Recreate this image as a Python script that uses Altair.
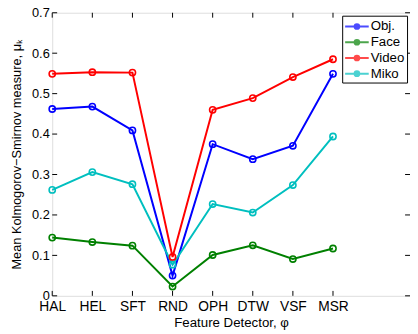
import altair as alt
import pandas as pd

detectors = ["HAL", "HEL", "SFT", "RND", "OPH", "DTW", "VSF", "MSR"]
positions = [1, 2, 3, 4, 5, 6, 7, 8]
series_names = ["Obj.", "Face", "Video", "Miko"]
obj = [0.462, 0.468, 0.409, 0.050, 0.375, 0.338, 0.371, 0.549]
face = [0.144, 0.133, 0.124, 0.023, 0.101, 0.125, 0.091, 0.117]
video = [0.549, 0.553, 0.552, 0.096, 0.460, 0.489, 0.541, 0.585]
miko = [0.262, 0.306, 0.276, 0.077, 0.227, 0.206, 0.274, 0.394]
colors = ["#0000ff", "#008000", "#ff0000", "#00bfbf"]
yticks = [0, 0.1, 0.2, 0.3, 0.4, 0.5, 0.6, 0.7]

rows = []
for name, vals in zip(series_names, [obj, face, video, miko]):
    for p, d, v in zip(positions, detectors, vals):
        rows.append({"series": name, "pos": p, "det": d, "value": v})
df = pd.DataFrame(rows)

W, H = 364, 288
FONT = "Liberation Sans"

label_expr = "[" + ",".join(f"'{d}'" for d in detectors) + "][datum.value-1]"

xscale = alt.Scale(domain=[1, 9.92], nice=False, zero=False)
yscale = alt.Scale(domain=[0, 0.7], nice=False)
cscale = alt.Scale(domain=series_names, range=colors)

x = alt.X("pos:Q", scale=xscale,
          axis=alt.Axis(values=positions, labelExpr=label_expr, title="Feature Detector,  φ",
                        grid=False, domain=False, ticks=False, labelFontSize=14,
                        labelPadding=4, titleFontSize=13.5, titlePadding=2, labelOverlap=False,
                        labelFlush=False, labelBound=False,
                        labelColor="black", titleColor="black", titleFontWeight="normal",
                        labelFont=FONT, titleFont=FONT))
y = alt.Y("value:Q", scale=yscale,
          axis=alt.Axis(values=yticks, title="Mean Kolmogorov−Smirnov measure,  μₖ",
                        grid=False, domain=False, ticks=False, labelFontSize=13,
                        labelPadding=3, titleFontSize=13, titlePadding=8, labelOverlap=False,
                        labelFlush=False, labelBound=False,
                        labelColor="black", titleColor="black", titleFontWeight="normal",
                        labelFont=FONT, titleFont=FONT,
                        labelExpr="datum.value == 0 ? '0' : format(datum.value, '.1f')"))

# legend glyph: a short line with a dot, drawn by stroke
sym = ("M-1.5,0H1.5"
       "M-0.3,0A0.3,0.3,0,1,0,0.3,0A0.3,0.3,0,1,0,-0.3,0Z")

legend = alt.Legend(title=None, orient="none", legendX=295, legendY=3,
                    symbolType=sym, symbolSize=256, symbolStrokeWidth=2,
                    labelFontSize=13.5, labelFont=FONT, labelColor="black",
                    strokeColor="black", fillColor="white", padding=2,
                    symbolOffset=4, labelOffset=5, rowPadding=0)

legend_layer = alt.Chart(df).transform_filter("datum.value < 0").mark_point(filled=True).encode(
    x=x, y=y,
    color=alt.Color("series:N", scale=cscale, sort=series_names, legend=legend),
)
lines = alt.Chart(df).mark_line(strokeWidth=2).encode(
    x="pos:Q", y="value:Q",
    color=alt.Color("series:N"),
    detail="series:N",
)
points = alt.Chart(df).mark_point(shape="circle", size=40, strokeWidth=1.6, filled=False, opacity=1).encode(
    x="pos:Q", y="value:Q",
    color=alt.Color("series:N"),
)

ydf = pd.DataFrame({"t": yticks})
xdf = pd.DataFrame({"t": positions})
tl = alt.Chart(ydf).mark_rule(color="black", strokeWidth=1).encode(
    y=alt.Y("t:Q", scale=yscale), x=alt.value(0), x2=alt.value(5))
tr = alt.Chart(ydf).mark_rule(color="black", strokeWidth=1).encode(
    y=alt.Y("t:Q", scale=yscale), x=alt.value(W), x2=alt.value(W - 5))
tb = alt.Chart(xdf).mark_rule(color="black", strokeWidth=1).encode(
    x=alt.X("t:Q", scale=xscale), y=alt.value(H), y2=alt.value(H - 5))
tt = alt.Chart(xdf).mark_rule(color="black", strokeWidth=1).encode(
    x=alt.X("t:Q", scale=xscale), y=alt.value(0), y2=alt.value(5))

chart = alt.layer(legend_layer, lines, points, tl, tr, tb, tt).properties(
    width=W, height=H,
    autosize=alt.AutoSizeParams(type="none"),
    padding={"left": 45, "top": 2, "right": 0, "bottom": 36},
).configure_view(stroke="black", strokeWidth=1).configure(background="white")

chart.save("out.html", embed_options={"renderer": "svg", "actions": False})
